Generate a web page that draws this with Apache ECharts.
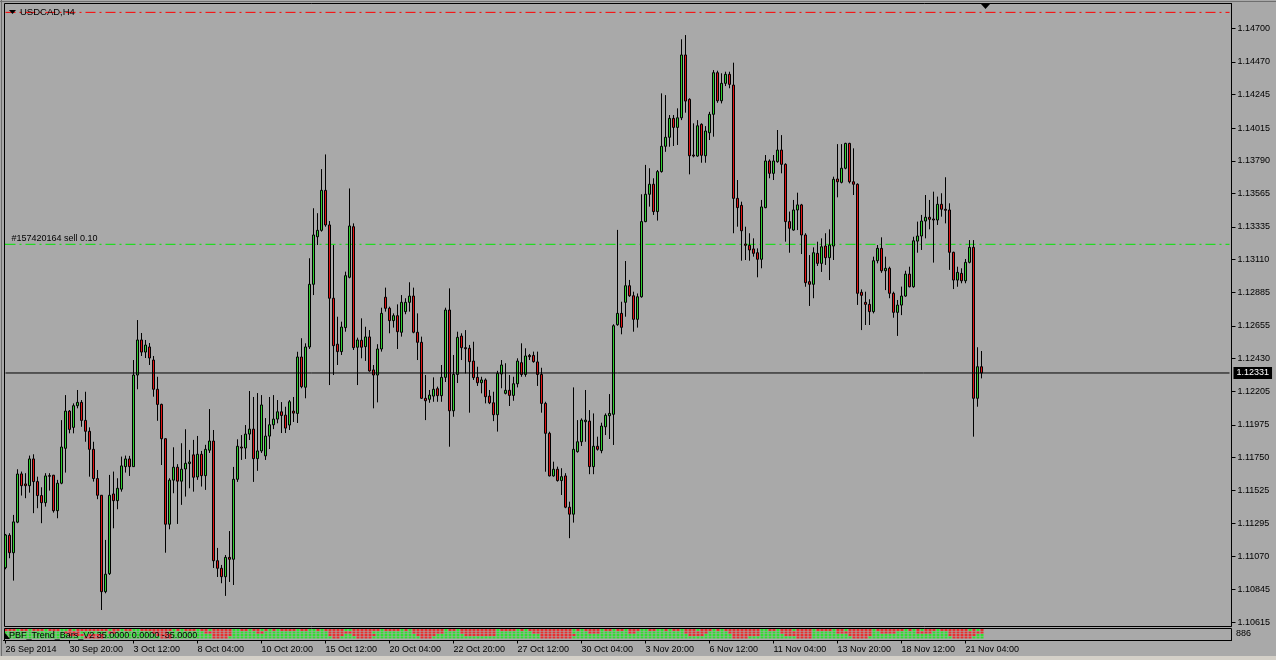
<!DOCTYPE html>
<html><head><meta charset="utf-8">
<script src="https://cdn.jsdelivr.net/npm/echarts@6/dist/echarts.min.js"></script>
<style>html,body{margin:0;padding:0;background:#a9a9a9;overflow:hidden}#c{width:1276px;height:660px}</style>
</head><body><div id="c"></div><script>
const symbolName = 'USDCAD,H4';
const orderLabel = '#157420164 sell 0.10';
const indicatorName = 'PBF_Trend_Bars_V2 35.0000 0.0000 -35.0000';
const tickLabels = ['26 Sep 2014','30 Sep 20:00','3 Oct 12:00','8 Oct 04:00','10 Oct 20:00','15 Oct 12:00','20 Oct 04:00','22 Oct 20:00','27 Oct 12:00','30 Oct 04:00','3 Nov 20:00','6 Nov 12:00','11 Nov 04:00','13 Nov 20:00','18 Nov 12:00','21 Nov 04:00'];
const barsPerTick = 16;
const priceTicks = [1.14700,1.14470,1.14245,1.14015,1.13790,1.13565,1.13335,1.13110,1.12885,1.12655,1.12430,1.12205,1.11975,1.11750,1.11525,1.11295,1.11070,1.10845,1.10615];
const bidPrice = 1.12331;
const stopPrice = 1.14811;
const entryPrice = 1.13216;
const totalSlots = 307;

const opens = [
1.10992,1.11215,1.11095,1.11305,1.11637,1.11568,1.11556,1.11740,1.11584,1.11488,
1.11439,1.11625,1.11628,1.11384,1.11573,1.11813,1.12069,1.11957,1.12106,1.12129,
1.12005,1.11930,1.11806,1.11605,1.11490,1.10827,1.10951,1.11499,1.11453,1.11532,
1.11687,1.11740,1.11687,1.12317,1.12558,1.12475,1.12510,1.12420,1.12219,1.12115,
1.11879,1.11291,1.11594,1.11683,1.11587,1.11671,1.11708,1.11768,1.11616,1.11772,
1.11625,1.11800,1.11863,1.11040,1.10988,1.10930,1.11063,1.11050,1.11600,1.11822,
1.11815,1.11911,1.11945,1.11742,1.11795,1.11761,1.11897,1.11975,1.12014,1.12064,
1.12041,1.11973,1.12069,1.12053,1.12441,1.12233,1.12510,1.12941,1.13268,1.13312,
1.13587,1.13349,1.12845,1.12529,1.12478,1.12643,1.12989,1.13337,1.12508,1.12556,
1.12512,1.12579,1.12352,1.12317,1.12496,1.12852,1.12776,1.12691,1.12725,1.12611,
1.12753,1.12817,1.12860,1.12611,1.12542,1.12157,1.12150,1.12172,1.12223,1.12175,
1.12301,1.12764,1.12071,1.12321,1.12585,1.12505,1.12501,1.12413,1.12301,1.12264,
1.12283,1.12172,1.12126,1.12044,1.12324,1.12191,1.12212,1.12177,1.12257,1.12402,
1.12321,1.12452,1.12452,1.12407,1.12321,1.12122,1.11916,1.11623,1.11669,1.11591,
1.11623,1.11408,1.11360,1.11790,1.11858,1.11996,1.12000,1.11687,1.11827,1.11797,
1.11961,1.12037,1.12047,1.12663,1.12741,1.12817,1.12931,1.12862,1.12700,1.12855,
1.13372,1.13560,1.13629,1.13441,1.13716,1.13890,1.13952,1.14082,1.14020,1.14086,
1.14518,1.14213,1.13830,1.13823,1.14041,1.13825,1.13983,1.14110,1.14396,1.14203,
1.14323,1.14385,1.14311,1.13532,1.13484,1.13218,1.13209,1.13184,1.13158,1.13113,
1.13468,1.13789,1.13704,1.13784,1.13864,1.13766,1.13372,1.13314,1.13452,1.13487,
1.13280,1.12959,1.12941,1.13154,1.13085,1.13204,1.13124,1.13204,1.13665,1.13642,
1.13739,1.13910,1.13646,1.13629,1.12886,1.12817,1.12803,1.12753,1.13103,1.13188,
1.13034,1.13051,1.12879,1.12748,1.12798,1.12860,1.13011,1.12924,1.13238,1.13273,
1.13376,1.13402,1.13390,1.13383,1.13491,1.13457,1.13452,1.13161,1.12970,1.13016,
1.12965,1.13092,1.13195,1.12157,1.12374
];
const closes = [
1.11217,1.11095,1.11307,1.11636,1.11556,1.11556,1.11740,1.11584,1.11488,1.11439,
1.11623,1.11621,1.11384,1.11573,1.11822,1.12069,1.11943,1.12106,1.12129,1.12005,
1.11930,1.11806,1.11605,1.11490,1.10827,1.10947,1.11490,1.11453,1.11538,1.11692,
1.11740,1.11687,1.12317,1.12558,1.12475,1.12523,1.12434,1.12219,1.12115,1.11879,
1.11291,1.11594,1.11683,1.11587,1.11669,1.11710,1.11719,1.11614,1.11772,1.11625,
1.11806,1.11863,1.11040,1.10988,1.10930,1.11063,1.11050,1.11600,1.11827,1.11815,
1.11911,1.11945,1.11742,1.11795,1.12111,1.11897,1.11975,1.12014,1.12064,1.12039,
1.11952,1.12133,1.12055,1.12441,1.12237,1.12510,1.12941,1.13280,1.13312,1.13587,
1.13349,1.12845,1.12519,1.12478,1.12647,1.13000,1.13342,1.12505,1.12558,1.12508,
1.12579,1.12345,1.12317,1.12496,1.12741,1.12776,1.12691,1.12725,1.12615,1.12817,
1.12817,1.12860,1.12611,1.12542,1.12157,1.12140,1.12179,1.12219,1.12175,1.12301,
1.12764,1.12071,1.12321,1.12576,1.12505,1.12498,1.12409,1.12299,1.12264,1.12283,
1.12168,1.12126,1.12044,1.12328,1.12386,1.12212,1.12177,1.12257,1.12413,1.12321,
1.12448,1.12443,1.12409,1.12321,1.12122,1.11916,1.11623,1.11669,1.11591,1.11618,
1.11408,1.11360,1.11806,1.11858,1.12007,1.12007,1.11687,1.11827,1.11806,1.11966,
1.12040,1.12053,1.12656,1.12741,1.12645,1.12931,1.12862,1.12700,1.12855,1.13372,
1.13560,1.13629,1.13441,1.13716,1.13890,1.13952,1.14082,1.14020,1.14086,1.14518,
1.14201,1.13825,1.13823,1.14031,1.13828,1.13995,1.14110,1.14396,1.14203,1.14323,
1.14385,1.14316,1.13532,1.13468,1.13309,1.13209,1.13177,1.13154,1.13113,1.13473,
1.13789,1.13704,1.13789,1.13864,1.13766,1.13372,1.13326,1.13452,1.13487,1.13280,
1.12952,1.12941,1.13158,1.13085,1.13199,1.13124,1.13211,1.13663,1.13646,1.13739,
1.13910,1.13646,1.13629,1.12879,1.12865,1.12803,1.12753,1.13103,1.13188,1.13034,
1.13051,1.12879,1.12748,1.12798,1.12860,1.13011,1.12924,1.13240,1.13273,1.13376,
1.13402,1.13388,1.13383,1.13491,1.13457,1.13450,1.13161,1.12970,1.13023,1.12965,
1.13092,1.13195,1.12157,1.12374,1.12331
];
const lows = [
1.10981,1.11057,1.10903,1.11298,1.11488,1.11470,1.11508,1.11367,1.11401,1.11298,
1.11412,1.11522,1.11371,1.11332,1.11566,1.11646,1.11916,1.11916,1.12088,1.11961,
1.11858,1.11618,1.11584,1.11463,1.10701,1.10816,1.10942,1.11263,1.11394,1.11515,
1.11646,1.11623,1.11685,1.12219,1.12448,1.12434,1.12386,1.12168,1.12002,1.11698,
1.11095,1.11256,1.11504,1.11293,1.11424,1.11481,1.11538,1.11515,1.11596,1.11550,
1.11527,1.11781,1.10990,1.10928,1.10885,1.10798,1.10894,1.10873,1.11582,1.11733,
1.11740,1.11870,1.11582,1.11658,1.11781,1.11733,1.11808,1.11945,1.11985,1.11918,
1.11918,1.11939,1.11994,1.11987,1.12226,1.12157,1.12496,1.12867,1.13211,1.13303,
1.13337,1.12248,1.12317,1.12386,1.12455,1.12615,1.12982,1.12489,1.12248,1.12432,
1.12414,1.12340,1.12088,1.12129,1.12478,1.12753,1.12604,1.12643,1.12496,1.12581,
1.12735,1.12753,1.12604,1.12420,1.12152,1.12007,1.12126,1.12133,1.12133,1.12133,
1.12269,1.11824,1.12030,1.12262,1.12420,1.12328,1.12058,1.12283,1.12242,1.12191,
1.12122,1.12117,1.12000,1.11928,1.12226,1.12184,1.12104,1.12140,1.12232,1.12305,
1.12305,1.12420,1.12402,1.12242,1.12058,1.11652,1.11620,1.11618,1.11584,1.11492,
1.11401,1.11195,1.11302,1.11783,1.11829,1.11858,1.11635,1.11635,1.11797,1.11779,
1.11904,1.11877,1.11836,1.12656,1.12597,1.12718,1.12855,1.12615,1.12643,1.12849,
1.13368,1.13475,1.13418,1.13379,1.13709,1.13852,1.13887,1.13892,1.13899,1.14070,
1.14121,1.13697,1.13814,1.13818,1.13777,1.13777,1.13933,1.13956,1.14189,1.14185,
1.14304,1.14289,1.13292,1.13337,1.13103,1.13108,1.13103,1.13131,1.12989,1.13051,
1.13464,1.13670,1.13658,1.13777,1.13704,1.13234,1.13158,1.13309,1.13314,1.13149,
1.12924,1.12792,1.12845,1.13067,1.13026,1.13074,1.12970,1.13108,1.13539,1.13635,
1.13732,1.13635,1.13555,1.12799,1.12626,1.12661,1.12661,1.12741,1.13085,1.13020,
1.12901,1.12845,1.12711,1.12586,1.12729,1.12855,1.12920,1.12917,1.13158,1.13177,
1.13257,1.13319,1.13090,1.13349,1.13406,1.13360,1.13040,1.12908,1.12924,1.12948,
1.12948,1.13085,1.11893,1.12099,1.12294
];
const highs = [
1.11224,1.11229,1.11355,1.11669,1.11653,1.11642,1.11763,1.11772,1.11618,1.11545,
1.11642,1.11642,1.11630,1.11596,1.12007,1.12179,1.12076,1.12122,1.12214,1.12145,
1.12202,1.11957,1.11858,1.11664,1.11492,1.11183,1.11630,1.11653,1.11607,1.11756,
1.11763,1.11761,1.12420,1.12695,1.12606,1.12558,1.12537,1.12448,1.12305,1.12120,
1.11882,1.11607,1.11820,1.11704,1.11848,1.11944,1.11802,1.11871,1.11898,1.11795,
1.11837,1.12083,1.11939,1.11128,1.11011,1.11079,1.11244,1.11685,1.11875,1.11904,
1.11973,1.12207,1.12166,1.12193,1.12179,1.12021,1.12166,1.12179,1.12145,1.12131,
1.12099,1.12145,1.12166,1.12477,1.12570,1.12535,1.13120,1.13464,1.13430,1.13733,
1.13834,1.13376,1.13211,1.12718,1.12684,1.13028,1.13600,1.13360,1.12574,1.12707,
1.12649,1.12626,1.12386,1.12529,1.12780,1.12918,1.12787,1.12741,1.12803,1.12867,
1.12845,1.12955,1.12918,1.12741,1.12581,1.12317,1.12214,1.12301,1.12237,1.12386,
1.12780,1.12913,1.12455,1.12615,1.12604,1.12626,1.12524,1.12546,1.12374,1.12305,
1.12294,1.12214,1.12202,1.12346,1.12420,1.12398,1.12317,1.12305,1.12432,1.12535,
1.12501,1.12462,1.12478,1.12478,1.12367,1.12133,1.11927,1.11721,1.11687,1.11676,
1.11642,1.11446,1.12232,1.12007,1.12019,1.12214,1.12076,1.12053,1.11893,1.11989,
1.12053,1.12186,1.12666,1.13315,1.12821,1.13101,1.12971,1.12890,1.12878,1.13560,
1.13762,1.13739,1.13670,1.13727,1.14254,1.14242,1.14105,1.14105,1.14151,1.14626,
1.14655,1.14220,1.14048,1.14070,1.14048,1.14029,1.14127,1.14414,1.14410,1.14392,
1.14403,1.14403,1.14465,1.13658,1.13509,1.13337,1.13292,1.13257,1.13188,1.13521,
1.13830,1.13800,1.13830,1.14002,1.13967,1.13773,1.13441,1.13521,1.13571,1.13494,
1.13292,1.13142,1.13195,1.13234,1.13257,1.13292,1.13319,1.13681,1.13905,1.13905,
1.13914,1.13914,1.13876,1.13635,1.12906,1.12890,1.12838,1.13131,1.13211,1.13264,
1.13131,1.13062,1.12890,1.12833,1.12925,1.13034,1.13062,1.13268,1.13372,1.13418,
1.13555,1.13521,1.13578,1.13544,1.13567,1.13677,1.13498,1.13165,1.13062,1.13051,
1.13115,1.13245,1.13245,1.12508,1.12482
];

// indicator strip (PBF Trend Bars): top row green bars, lower rows red runs [from, to]
const trendRowAGreen = [3,6,10,14,15,17,26,29,32,33,42,44,48,51,57,58,61,64,66,68,73,76,77,79,85,86,94,99,101,110,113,123,128,130,142,144,149,152,155,159,160,163,164,166,169,173,177,179,189,190,193,197,202,207,210,217,225,227,229,233,241,243];
const trendRowBRed = [[15,18],[26,27],[37,40],[50,56],[63,64],[81,91],[102,109],[114,122],[132,141],[146,148],[156,157],[170,175],[181,188],[194,201],[208,216],[219,222],[228,231],[236,244]];
const trendRowCRed = [[16,19],[21,24],[38,41],[52,56],[81,84],[87,92],[103,107],[115,122],[134,142],[171,174],[182,188],[195,201],[211,216],[236,242]];
const trendRowDRed = [[20,24],[39,41],[52,55],[82,83],[88,91],[104,106],[134,141],[182,185],[198,201],[212,215],[237,241]];

const categories = Array.from({length: totalSlots}, (_, i) => String(i));
const candles = opens.map((o, i) => [o, closes[i], lows[i], highs[i]]);

const GREEN_DOT = '#12ee12', RED_DOT = '#f81010';
function inRuns(runs, i) { return runs.some(r => i >= r[0] && i <= r[1]); }
const rowLevels = [10.5, 8, 5.5, 3];
const dots = [];
for (let i = 0; i < opens.length; i++) {
  dots.push({value: [i, rowLevels[0]], itemStyle: {color: trendRowAGreen.includes(i) ? GREEN_DOT : RED_DOT}});
  dots.push({value: [i, rowLevels[1]], itemStyle: {color: inRuns(trendRowBRed, i) ? RED_DOT : GREEN_DOT}});
  dots.push({value: [i, rowLevels[2]], itemStyle: {color: inRuns(trendRowCRed, i) ? RED_DOT : GREEN_DOT}});
  dots.push({value: [i, rowLevels[3]], itemStyle: {color: inRuns(trendRowDRed, i) ? RED_DOT : GREEN_DOT}});
}

const isTick = (idx) => idx % barsPerTick === 0 && idx / barsPerTick < tickLabels.length;
const FONT = "'Liberation Sans', Arial, sans-serif";
const lastSlot = totalSlots - 1;

const chart = echarts.init(document.getElementById('c'), null, {renderer: 'canvas'});
chart.setOption({
  animation: false,
  backgroundColor: '#a9a9a9',
  textStyle: {fontFamily: FONT},
  grid: [
    {left: 3.5, top: 3.5, width: 1228, height: 622.5, show: false},
    {left: 3.5, top: 628.5, width: 1228, height: 12, show: false}
  ],
  xAxis: [
    {type: 'category', gridIndex: 0, data: categories, boundaryGap: true, show: false},
    {type: 'category', gridIndex: 1, data: categories, boundaryGap: true,
      axisLine: {show: true, lineStyle: {color: '#000', width: 1}},
      axisTick: {show: true, alignWithLabel: true, interval: isTick, length: 3, lineStyle: {color: '#000'}},
      axisLabel: {show: true, interval: isTick, hideOverlap: false,
        formatter: (v, i) => tickLabels[i / barsPerTick],
        color: '#000', fontSize: 9, fontFamily: FONT, align: 'left', margin: 5},
      splitLine: {show: false}}
  ],
  yAxis: [
    {type: 'value', gridIndex: 0, position: 'right', min: 1.10591, max: 1.14872,
      axisLine: {show: true, lineStyle: {color: '#000', width: 1}},
      axisTick: {show: true, customValues: priceTicks, length: 4, inside: false, lineStyle: {color: '#000'}},
      axisLabel: {show: true, customValues: priceTicks, formatter: v => v.toFixed(5),
        color: '#000', fontSize: 9, fontFamily: FONT, margin: 6},
      splitLine: {show: false}},
    {type: 'value', gridIndex: 1, min: 0, max: 12, show: false}
  ],
  series: [
    {type: 'candlestick', name: symbolName, xAxisIndex: 0, yAxisIndex: 0, data: candles, barWidth: 2, z: 2,
      itemStyle: {color: '#2fd02f', color0: '#e21212', borderColor: '#000', borderColor0: '#000', borderColorDoji: '#000', borderWidth: 1}},
    {type: 'line', name: 'stop', xAxisIndex: 0, yAxisIndex: 0, symbol: 'none', silent: true, z: 1,
      data: [[0, stopPrice], [lastSlot, stopPrice]],
      lineStyle: {color: '#ff0000', width: 1, type: [10, 4, 2, 4]}},
    {type: 'line', name: 'entry', xAxisIndex: 0, yAxisIndex: 0, symbol: 'none', silent: true, z: 1,
      data: [[0, entryPrice], [lastSlot, entryPrice]],
      lineStyle: {color: '#00e600', width: 1, type: [10, 4, 2, 4]}},
    {type: 'scatter', name: 'entryLabel', xAxisIndex: 0, yAxisIndex: 0, symbol: 'rect', symbolSize: [1, 1], silent: true, z: 4,
      itemStyle: {color: '#00e600', opacity: 1},
      label: {show: true, position: 'top', align: 'left', offset: [6, 0], distance: 1,
        formatter: orderLabel, color: '#000', opacity: 1, fontSize: 9, fontFamily: FONT},
      data: [[0, entryPrice]]},
    {type: 'line', name: 'bid', xAxisIndex: 0, yAxisIndex: 0, symbol: 'none', silent: true, z: 3,
      data: [[0, bidPrice], [lastSlot, bidPrice]],
      lineStyle: {color: '#000', width: 1, type: 'solid'},
      endLabel: {show: true, formatter: bidPrice.toFixed(5), color: '#fff', backgroundColor: '#000',
        padding: [2, 3, 1, 3], fontSize: 9, fontFamily: FONT, distance: 4}},
    {type: 'scatter', xAxisIndex: 1, yAxisIndex: 1, symbol: 'rect', symbolSize: [3, 2], symbolOffset: [0.5, 0],
      data: dots, silent: true}
  ],
  graphic: [
    {type: 'rect', shape: {x: 0, y: 656, width: 1276, height: 4}, style: {fill: '#d4d0c8'}, silent: true},
    {type: 'line', shape: {x1: 1.5, y1: 0, x2: 1.5, y2: 656}, style: {stroke: '#6e6e6e', lineWidth: 1}, silent: true},
    {type: 'line', shape: {x1: 0, y1: 1.5, x2: 1276, y2: 1.5}, style: {stroke: '#6e6e6e', lineWidth: 1}, silent: true},
    {type: 'rect', shape: {x: 4.5, y: 3.5, width: 1227, height: 623}, style: {fill: null, stroke: '#000', lineWidth: 1}, silent: true, z: 10},
    {type: 'rect', shape: {x: 4.5, y: 628.5, width: 1227, height: 12}, style: {fill: null, stroke: '#000', lineWidth: 1}, silent: true, z: 10},
    {type: 'polygon', shape: {points: [[9, 10], [16, 10], [12.5, 14]]}, style: {fill: '#000'}, silent: true, z: 11},
    {type: 'text', x: 20, y: 12, style: {text: symbolName, fill: '#000', font: "9.5px " + FONT, textVerticalAlign: 'middle'}, silent: true, z: 11},
    {type: 'polygon', shape: {points: [[981, 4], [990, 4], [985.5, 9]]}, style: {fill: '#000'}, silent: true, z: 11},
    {type: 'polygon', shape: {points: [[5, 633], [10, 639], [5, 639]]}, style: {fill: '#000'}, silent: true, z: 11},
    {type: 'text', x: 9, y: 636, style: {text: indicatorName, fill: '#000', font: "9px " + FONT, textVerticalAlign: 'middle'}, silent: true, z: 11},
    {type: 'text', x: 1236, y: 634, style: {text: '886', fill: '#000', font: "9px " + FONT, textVerticalAlign: 'middle'}, silent: true, z: 11}
  ]
});
</script></body></html>
